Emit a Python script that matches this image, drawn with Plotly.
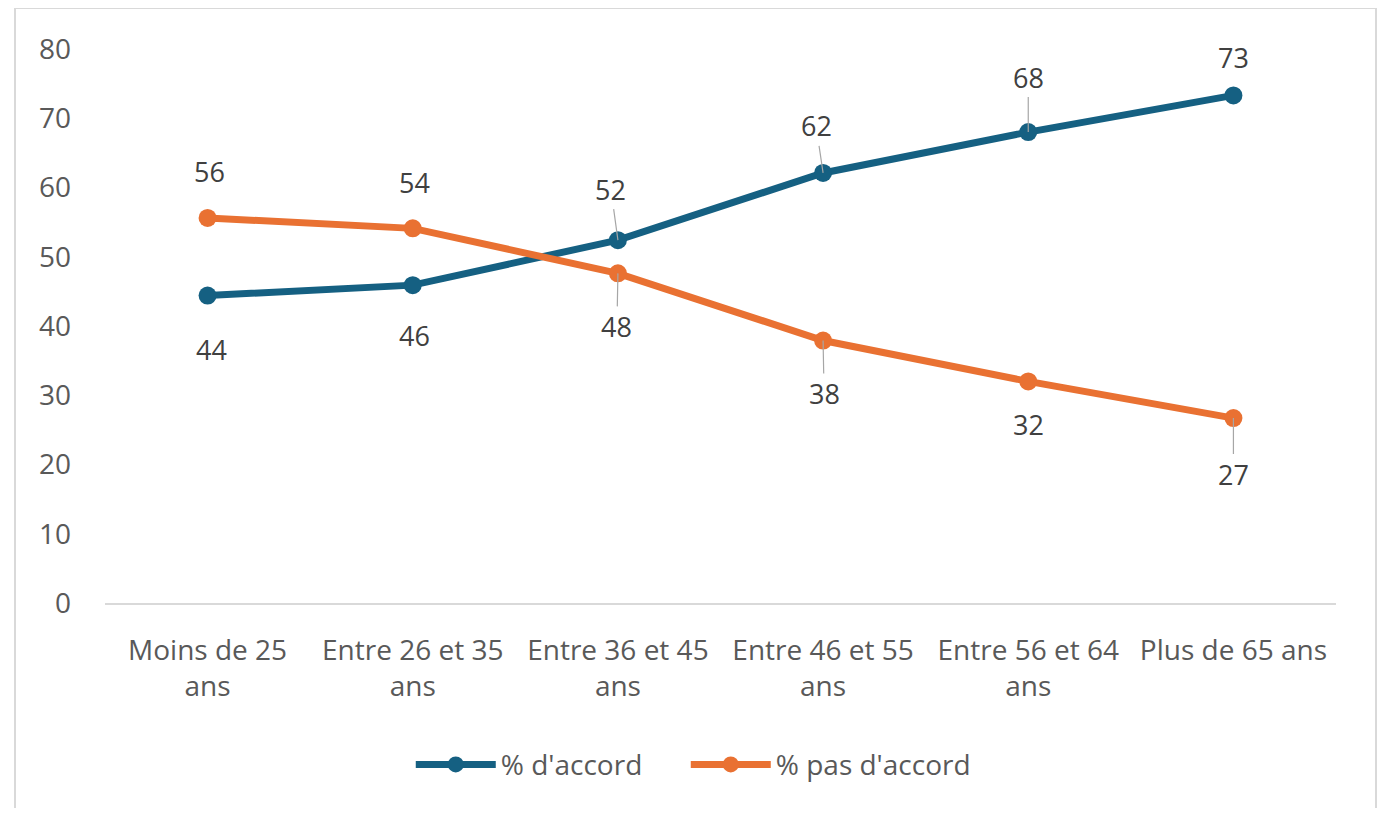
import plotly.graph_objects as go

categories = ["Moins de 25<br>ans", "Entre 26 et 35<br>ans", "Entre 36 et 45<br>ans",
              "Entre 46 et 55<br>ans", "Entre 56 et 64<br>ans", "Plus de 65 ans"]
accord = [44.4, 45.9, 52.4, 62.1, 68.0, 73.3]
pas_accord = [55.6, 54.1, 47.6, 37.9, 32.0, 26.7]
y_ticks = [0, 10, 20, 30, 40, 50, 60, 70, 80]

BLUE = "#156082"
ORANGE = "#E97132"
TEXT = "#595959"
FONT = "Open Sans"
FS = 28

fig = go.Figure()
fig.add_trace(go.Scatter(x=categories, y=accord, name="% d'accord", mode="lines+markers",
                         line=dict(color=BLUE, width=7), marker=dict(size=18, color=BLUE),
                         legendwidth=180))
fig.add_trace(go.Scatter(x=categories, y=pas_accord, name="% pas d'accord", mode="lines+markers",
                         line=dict(color=ORANGE, width=7), marker=dict(size=18, color=ORANGE),
                         legendwidth=215))

# data label offsets (px) and whether Excel drew a leader line
accord_off = [(4, 54, False), (2, 50, False), (-7, -51, True), (-7, -47, True), (0, -55, True), (0, -38, False)]
pas_off = [(2, -46, False), (2, -46, False), (-1, 53, True), (1, 53, True), (0, 43, False), (0, 56, True)]

for vals, offs in [(accord, accord_off), (pas_accord, pas_off)]:
    for cat, v, (dx, dy, leader) in zip(categories, vals, offs):
        fig.add_annotation(x=cat, y=v, text=f"{v:.0f}", showarrow=True, arrowhead=0,
                           ax=dx, ay=dy, arrowwidth=1.2,
                           arrowcolor="#a6a6a6" if leader else "rgba(0,0,0,0)",
                           borderpad=1, font=dict(family=FONT, size=27, color="#404040"))

# outer chart border
fig.add_shape(type="rect", xref="paper", yref="paper", x0=-0.0731, x1=1.0325, y0=-0.40, y1=1.074,
              line=dict(color="#d9d9d9", width=2), fillcolor="rgba(0,0,0,0)", layer="below")

fig.update_layout(
    width=1370, height=800,
    margin=dict(l=97, r=42, t=41, b=205),
    paper_bgcolor="white", plot_bgcolor="white",
    font=dict(family=FONT, size=FS, color=TEXT),
    showlegend=True,
    legend=dict(orientation="h", x=0.486, xanchor="center", y=-0.292, yanchor="middle",
                font=dict(family=FONT, size=FS, color=TEXT), itemwidth=80, tracegroupgap=0),
    xaxis=dict(range=[-0.5, 5.5], showgrid=False, showline=True, linecolor="#d9d9d9", linewidth=2,
               ticks="", ticklabelstandoff=21, tickfont=dict(family=FONT, size=FS, color=TEXT)),
    yaxis=dict(range=[0, 80], tickvals=y_ticks, showgrid=False, zeroline=False, showline=False,
               ticklabelstandoff=33, tickfont=dict(family=FONT, size=FS, color=TEXT)),
)

fig.write_html("out.html")
